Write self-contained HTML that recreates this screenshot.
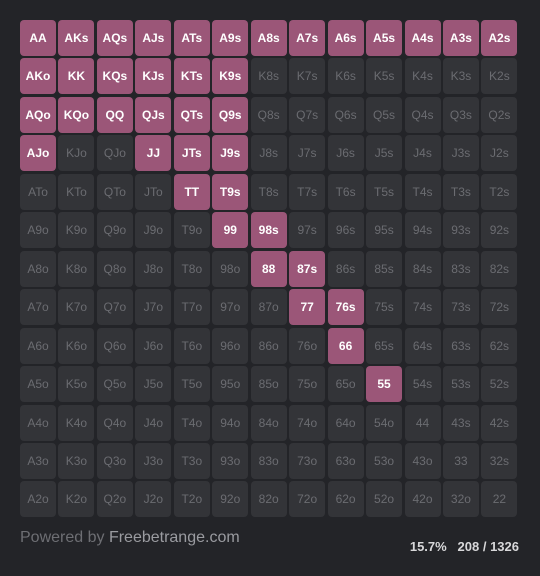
<!DOCTYPE html>
<html><head><meta charset="utf-8">
<style>
html,body{margin:0;padding:0;}
body{width:540px;height:576px;background:#232428;font-family:"Liberation Sans",sans-serif;position:relative;overflow:hidden;}
.cell{position:absolute;width:36px;height:36px;border-radius:4px;background:#333438;color:#6b6c71;font-size:12px;display:flex;align-items:center;justify-content:center;}
.cell.on{background:#9b5678;color:#fff;font-weight:bold;}
#powered{position:absolute;left:20px;top:529px;font-size:16px;color:#6d6e73;}
#powered span{color:#9a9ba0;}
#stats{position:absolute;right:21px;top:539px;font-size:13px;font-weight:bold;color:#d8d8da;white-space:pre;}
</style></head>
<body>
<div id="grid"></div>
<div id="powered">Powered by <span>Freebetrange.com</span></div>
<div id="stats">15.7%   208 / 1326</div>
<script>
const ranks = ["A","K","Q","J","T","9","8","7","6","5","4","3","2"];
const selected = ["AA","AKs","AQs","AJs","ATs","A9s","A8s","A7s","A6s","A5s","A4s","A3s","A2s",
"AKo","KK","KQs","KJs","KTs","K9s",
"AQo","KQo","QQ","QJs","QTs","Q9s",
"AJo","JJ","JTs","J9s","TT","T9s","99","98s","88","87s","77","76s","66","55"];
const grid = document.getElementById('grid');
const pitch = 38.45, x0 = 20, y0 = 20;
for (let r = 0; r < 13; r++) {
  for (let c = 0; c < 13; c++) {
    let name;
    if (r === c) name = ranks[r] + ranks[c];
    else if (c > r) name = ranks[r] + ranks[c] + "s";
    else name = ranks[c] + ranks[r] + "o";
    const el = document.createElement('div');
    el.className = 'cell' + (selected.includes(name) ? ' on' : '');
    el.style.left = (x0 + c * pitch) + 'px';
    el.style.top = (y0 + r * pitch) + 'px';
    el.textContent = name;
    
    
    grid.appendChild(el);
  }
}
</script>
</body></html>
